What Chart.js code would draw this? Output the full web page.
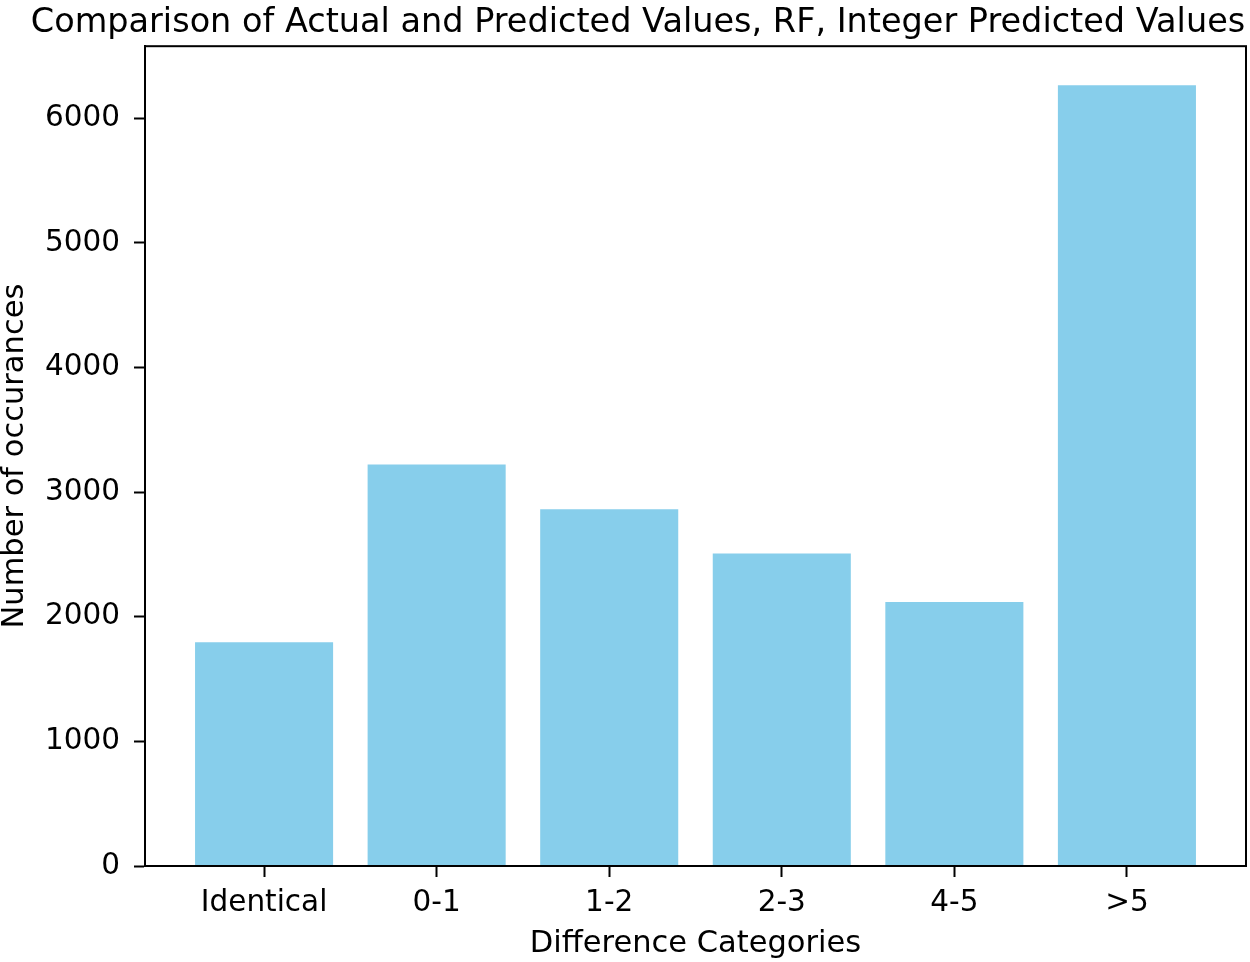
<!DOCTYPE html>
<html>
<head>
<meta charset="utf-8">
<script src="https://cdn.jsdelivr.net/npm/chart.js@4"></script>
<style>
  html, body { margin: 0; padding: 0; background: #fff; }
  #wrap { width: 1250px; height: 962px; }
</style>
</head>
<body>
<div id="wrap"><canvas id="chart" width="1250" height="962"></canvas></div>
<script>
const categories = ['Identical', '0-1', '1-2', '2-3', '4-5', '>5'];
const counts = [1795, 3222, 2863, 2508, 2118, 6265];
const yTicks = [0, 1000, 2000, 3000, 4000, 5000, 6000];

const FONT = 'DejaVu Sans';

// matplotlib draws a box round the axes, chart.js only the axis sides
const frame = {
    id: 'frame',
    afterDatasetsDraw(chart) {
        const { ctx, chartArea: a } = chart;
        ctx.save();
        ctx.strokeStyle = '#000';
        ctx.lineWidth = 2;
        ctx.strokeRect(a.left, a.top, a.right - a.left, a.bottom - a.top);
        ctx.restore();
    }
};

const ctx = document.getElementById('chart');
new Chart(ctx, {
    type: 'bar',
    data: {
        datasets: [{
            data: counts.map((v, i) => ({ x: i, y: v })),
            backgroundColor: '#87CEEB',
            borderWidth: 0,
            barPercentage: 0.8,
            categoryPercentage: 1.0
        }]
    },
    options: {
        responsive: false,
        animation: false,
        layout: { padding: { left: 30, right: 4, top: 0, bottom: 0 } },
        plugins: {
            legend: { display: false },
            tooltip: { enabled: false },
            title: {
                display: true,
                text: 'Comparison of Actual and Predicted Values, RF, Integer Predicted Values',
                color: '#000',
                font: { family: FONT, size: 33.5, weight: 'normal' },
                padding: { top: 3, bottom: 3 }
            }
        },
        scales: {
            x: {
                type: 'linear',
                offset: false,
                min: -0.69,
                max: 5.69,
                afterBuildTicks: axis => {
                    axis.ticks = categories.map((c, i) => ({ value: i }));
                },
                afterFit: axis => { axis.height = 96; },
                ticks: {
                    color: '#000',
                    font: { family: FONT, size: 29.5 },
                    padding: 9,
                    maxRotation: 0,
                    autoSkip: false,
                    callback: v => categories[v]
                },
                grid: {
                    offset: false,
                    drawOnChartArea: false,
                    drawTicks: true,
                    tickLength: 11,
                    tickColor: '#000',
                    tickWidth: 2
                },
                border: { display: true, color: '#000', width: 2 },
                title: {
                    display: true,
                    text: 'Difference Categories',
                    color: '#000',
                    font: { family: FONT, size: 30.5 },
                    padding: 0
                }
            },
            y: {
                min: 0,
                max: 6578,
                afterBuildTicks: axis => {
                    axis.ticks = yTicks.map(v => ({ value: v }));
                },
                afterFit: axis => { axis.width = 115; },
                ticks: {
                    color: '#000',
                    font: { family: FONT, size: 29.5 },
                    padding: 14,
                    includeBounds: false,
                    callback: v => String(v)
                },
                grid: {
                    drawOnChartArea: false,
                    drawTicks: true,
                    tickLength: 11,
                    tickColor: '#000',
                    tickWidth: 2
                },
                border: { display: true, color: '#000', width: 2 },
                title: {
                    display: true,
                    text: 'Number of occurances',
                    color: '#000',
                    font: { family: FONT, size: 30.5 },
                    padding: { top: -33, bottom: 0 }
                }
            }
        }
    },
    plugins: [frame]
});
</script>
</body>
</html>
